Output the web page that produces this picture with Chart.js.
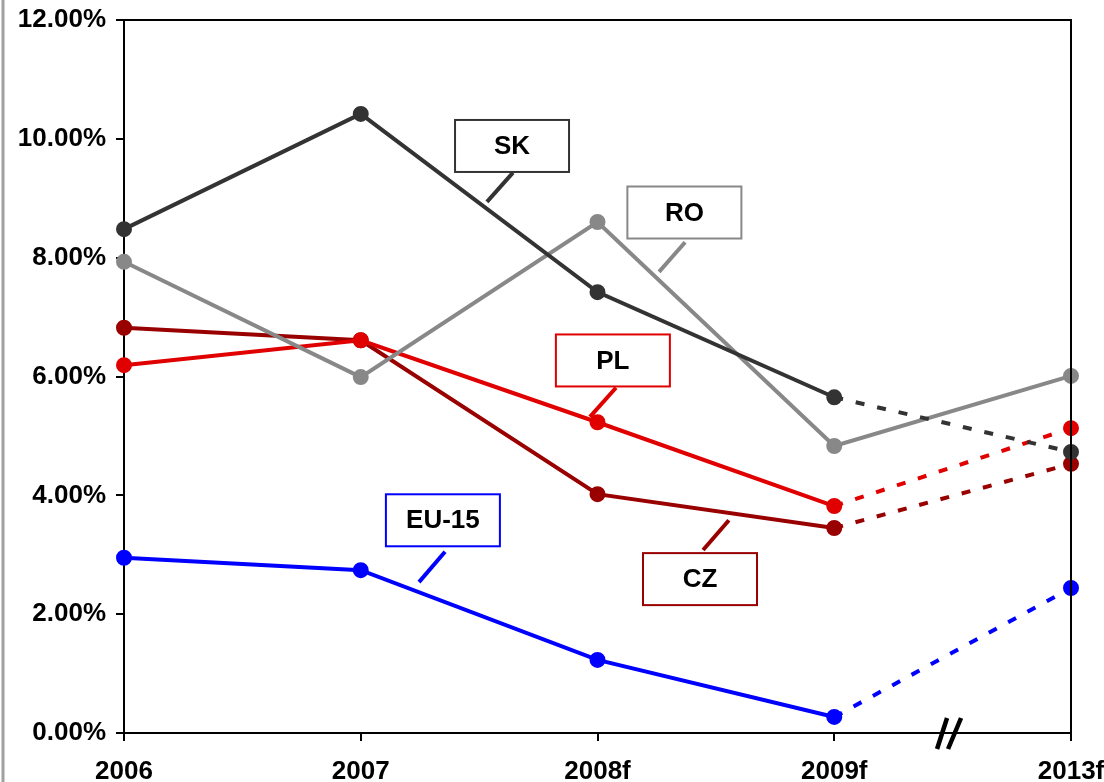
<!DOCTYPE html>
<html>
<head>
<meta charset="utf-8">
<script src="https://cdn.jsdelivr.net/npm/chart.js@4.4.1/dist/chart.umd.min.js"></script>
<style>
html,body{margin:0;padding:0;background:#fff;}
#wrap{position:relative;width:1104px;height:782px;}
</style>
</head>
<body>
<div id="wrap"><canvas id="c" width="1104" height="782"></canvas></div>
<script>
const categories = ['2006', '2007', '2008f', '2009f', '2013f'];
const SK   = [8.48, 10.42, 7.42, 5.65, 4.73];
const RO   = [7.93, 5.99, 8.60, 4.83, 6.01];
const PL   = [6.19, 6.61, 5.23, 3.82, 5.13];
const CZ   = [6.82, 6.61, 4.02, 3.45, 4.53];
const EU15 = [2.95, 2.74, 1.23, 0.27, 2.44];
const yTicks = [0, 2, 4, 6, 8, 10, 12];

const colors = {SK:'#333333', RO:'#888888', PL:'#e00000', CZ:'#990000', EU15:'#0000ff'};

// label boxes: centre (category index, value) and leader line (from -> to) in data units
const labels = [
  {text:'SK',    color:colors.SK,   cx:1.639, cy:9.88, l:[1.643,9.43,1.533,8.94]},
  {text:'RO',    color:colors.RO,   cx:2.367, cy:8.76, l:[2.370,8.26,2.260,7.76]},
  {text:'PL',    color:colors.PL,   cx:2.065, cy:6.27, l:[2.078,5.81,1.968,5.32]},
  {text:'EU-15', color:colors.EU15, cx:1.347, cy:3.58, l:[1.356,3.05,1.246,2.54]},
  {text:'CZ',    color:colors.CZ,   cx:2.433, cy:2.59, l:[2.555,3.58,2.446,3.08]}
];
const breakAt = 3.468;

function ds(label, data, color, dashedLast){
  return {
    label, data,
    borderColor: color, backgroundColor: color,
    pointBackgroundColor: color, pointBorderColor: color,
    borderWidth: 4, pointRadius: 6, pointHoverRadius: 6,
    tension: 0, fill: false,
    segment: { borderDash: ctx => (dashedLast && ctx.p1DataIndex === 4) ? [9, 13] : undefined }
  };
}

const FONT = "'Liberation Sans', Arial, sans-serif";

const decor = {
  id: 'decor',
  afterDraw(chart){
    const {ctx, chartArea:a, scales:{x, y}} = chart;
    ctx.save();
    ctx.strokeStyle = '#a0a0a0'; ctx.lineWidth = 3;
    ctx.beginPath(); ctx.moveTo(3, 0); ctx.lineTo(3, 782); ctx.stroke();
    ctx.strokeStyle = '#000'; ctx.lineWidth = 2;
    ctx.beginPath();
    ctx.moveTo(a.left, a.top); ctx.lineTo(a.right, a.top); ctx.lineTo(a.right, a.bottom);
    ctx.stroke();
    const bx = x.getPixelForValue(breakAt), by = a.bottom;
    ctx.lineWidth = 4.5; ctx.lineCap = 'butt';
    ctx.beginPath();
    ctx.moveTo(bx - 8, by + 16); ctx.lineTo(bx + 2, by - 15);
    ctx.moveTo(bx + 3, by + 16); ctx.lineTo(bx + 16, by - 15);
    ctx.stroke();
    ctx.font = "bold 26px " + FONT;
    ctx.textAlign = 'center'; ctx.textBaseline = 'middle';
    labels.forEach(lb => {
      const cx = x.getPixelForValue(lb.cx), cy = y.getPixelForValue(lb.cy);
      const w = 114, h = 52;
      ctx.fillStyle = '#fff';
      ctx.fillRect(cx - w/2, cy - h/2, w, h);
      ctx.strokeStyle = lb.color; ctx.lineWidth = 2;
      ctx.strokeRect(cx - w/2, cy - h/2, w, h);
      ctx.fillStyle = '#000';
      ctx.fillText(lb.text, cx, cy + 1);
      ctx.lineWidth = 4;
      ctx.beginPath();
      ctx.moveTo(x.getPixelForValue(lb.l[0]), y.getPixelForValue(lb.l[1]));
      ctx.lineTo(x.getPixelForValue(lb.l[2]), y.getPixelForValue(lb.l[3]));
      ctx.stroke();
    });
    ctx.restore();
  }
};

new Chart(document.getElementById('c'), {
  type: 'line',
  data: {
    labels: categories,
    datasets: [
      ds('SK', SK, colors.SK, true),
      ds('RO', RO, colors.RO, false),
      ds('PL', PL, colors.PL, true),
      ds('CZ', CZ, colors.CZ, true),
      ds('EU-15', EU15, colors.EU15, true)
    ]
  },
  options: {
    responsive: false,
    animation: false,
    devicePixelRatio: 1,
    layout: { padding: { left: 0, right: 33, top: 20, bottom: 0 } },
    plugins: { legend: { display: false }, tooltip: { enabled: false } },
    scales: {
      x: {
        type: 'category',
        offset: false,
        afterFit(s){ s.height = 49; s.paddingLeft = 0; s.paddingRight = 0; },
        grid: { display: true, drawOnChartArea: false, drawTicks: true, tickLength: 8, color: '#000', lineWidth: 2 },
        border: { display: true, color: '#000', width: 2 },
        ticks: { color: '#000', font: { family: FONT, size: 26, weight: 'bold' }, padding: 15, maxRotation: 0, autoSkip: false }
      },
      y: {
        min: 0, max: 12,
        afterFit(s){ s.width = 124; s.paddingTop = 0; s.paddingBottom = 0; },
        afterBuildTicks(s){ s.ticks = yTicks.map(v => ({value: v})); },
        grid: { display: true, drawOnChartArea: false, drawTicks: true, tickLength: 8, color: '#000', lineWidth: 2 },
        border: { display: true, color: '#000', width: 2 },
        ticks: { color: '#000', font: { family: FONT, size: 26, weight: 'bold' }, padding: 10,
                 callback: v => v.toFixed(2) + '%' }
      }
    }
  },
  plugins: [decor]
});
</script>
</body>
</html>
